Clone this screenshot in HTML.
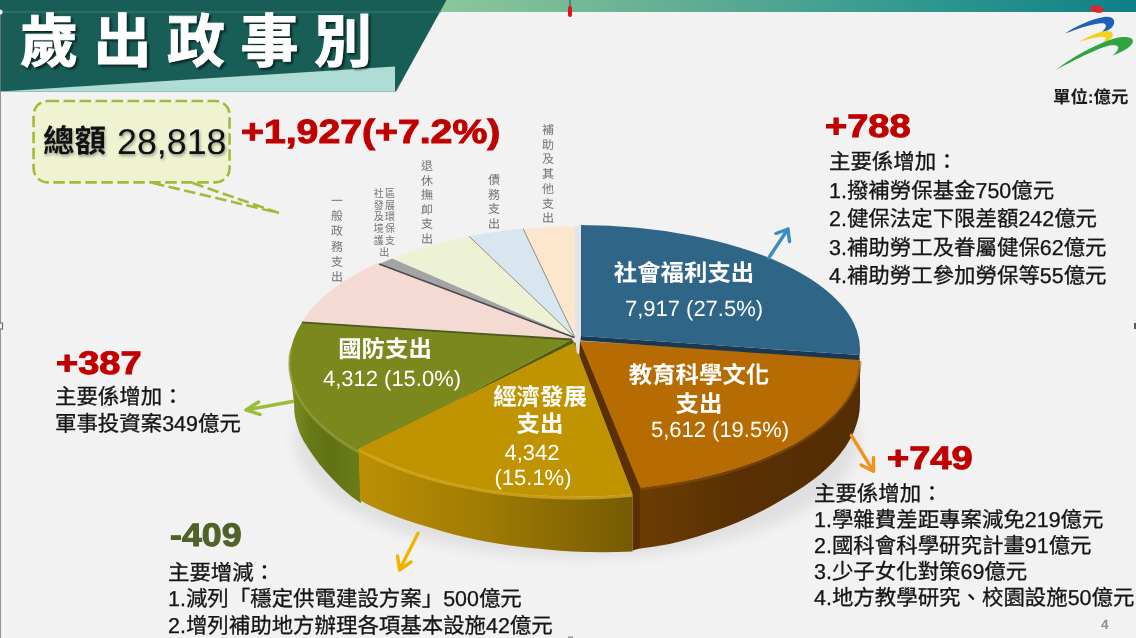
<!DOCTYPE html>
<html lang="zh-Hant">
<head>
<meta charset="utf-8">
<title>歲出政事別</title>
<style>
html,body{margin:0;padding:0;}
body{text-rendering:geometricPrecision;width:1136px;height:638px;overflow:hidden;background:#f2f2f2;font-family:"Liberation Sans","Noto Sans CJK TC",sans-serif;position:relative;color:#141414;}
#slide{position:absolute;left:0;top:0;width:1136px;height:638px;overflow:hidden;background:#f2f2f2;}
svg{position:absolute;left:0;top:0;}
.v2{text-rendering:auto;letter-spacing:1.3px;}
.t{position:absolute;white-space:nowrap;margin:0;will-change:transform;}
.title{left:20.3px;top:13.3px;font-size:58px;line-height:60px;font-weight:bold;color:#fff;letter-spacing:15.5px;-webkit-text-stroke:0.9px #fff;filter:drop-shadow(2px 2px 1px rgba(0,0,0,.6));}
.unit{left:1053px;top:87px;font-size:17.4px;line-height:20px;font-weight:bold;color:#1a1a1a;}
.big{font-weight:bold;font-size:32.5px;line-height:34px;color:#c00000;transform-origin:0 50%;transform:scaleX(1.17);-webkit-text-stroke:1px #c00000;}
.body{font-size:21.45px;color:#141414;-webkit-text-stroke:0.3px #141414;}
.wl{color:#fff;font-weight:bold;font-size:23.4px;line-height:28px;text-align:center;}
.wn{color:#fff;font-size:22px;line-height:26px;text-align:center;}
.v{position:absolute;will-change:transform;color:#747474;font-size:12px;line-height:14px;width:14px;text-align:center;}
</style>
</head>
<body>
<div id="slide">

<svg width="1136" height="638" viewBox="0 0 1136 638">
  <defs>
    <linearGradient id="gtop" x1="0" y1="0" x2="1" y2="0">
      <stop offset="0" stop-color="#8cc79b"/>
      <stop offset="0.35" stop-color="#62ad94"/>
      <stop offset="0.7" stop-color="#2f978f"/>
      <stop offset="1" stop-color="#0f7f86"/>
    </linearGradient>
    <linearGradient id="gyw" x1="358" y1="0" x2="634" y2="0" gradientUnits="userSpaceOnUse">
      <stop offset="0" stop-color="#bb9004"/>
      <stop offset="0.45" stop-color="#a17c04"/>
      <stop offset="1" stop-color="#755a03"/>
    </linearGradient>
    <linearGradient id="gow" x1="636" y1="0" x2="862" y2="0" gradientUnits="userSpaceOnUse">
      <stop offset="0" stop-color="#6e3d04"/>
      <stop offset="0.45" stop-color="#583003"/>
      <stop offset="1" stop-color="#532d04"/>
    </linearGradient>
    <linearGradient id="ggw" x1="288" y1="0" x2="360" y2="0" gradientUnits="userSpaceOnUse">
      <stop offset="0" stop-color="#80902a"/>
      <stop offset="0.3" stop-color="#687919"/>
      <stop offset="0.6" stop-color="#617214"/>
      <stop offset="1" stop-color="#6b7c18"/>
    </linearGradient>
    <filter id="blur" x="-10%" y="-30%" width="120%" height="160%"><feGaussianBlur stdDeviation="7"/></filter>
  </defs>

  <!-- header -->
  <rect x="440" y="0" width="696" height="12" fill="url(#gtop)"/>
  <polygon points="0,0 446.5,0 396,91.5 0,91.5" fill="#185e57"/>
  <polygon points="0,91.5 395,66.5 395,91.5" fill="#afdcd4"/>
  <rect x="0" y="11.5" width="441" height="1" fill="#4a8880" opacity="0.8"/>
  <rect x="0" y="12" width="1" height="626" fill="#6f7f8a" opacity="0.8"/>
  <circle cx="0" cy="12" r="2.6" fill="#eef3f5"/>
  <rect x="-1" y="323" width="3.5" height="6" fill="#f2f2f2" stroke="#56626c" stroke-width="1"/>
  <rect x="1134" y="323" width="2" height="6" fill="#555a62"/>
  <rect x="568" y="636.5" width="5" height="1.5" fill="#8a909c"/>
  <rect x="569.5" y="0" width="1" height="7" fill="#444"/>
  <rect x="568" y="6" width="4" height="11" rx="2" fill="#e0121a"/>

  <!-- logo -->
  <path d="M1090 7.5 C1093 4.5 1100 5 1103 8.5 C1105 11.5 1101 14 1096 12.5 C1092.5 11.5 1089.5 9.5 1090 7.5 Z" fill="#e0262c"/>
  <path d="M1065 33.5 C1076 26 1092 19 1104 17 C1112 16 1116 19.5 1113.5 25 C1111.5 29 1107 31 1101.5 32 C1106 28.5 1107.5 25 1104 23.5 C1098 22 1080 28 1065 33.5 Z" fill="#1f62b4"/>
  <path d="M1078 42.5 C1087 37 1098 32 1106 31 C1112 30.5 1114.5 34 1111.5 38 C1109.5 40.5 1107 41.5 1103 42.5 C1106.5 39.5 1107 37 1103 36.8 C1097 36.8 1087 39.5 1078 42.5 Z" fill="#f2d21b"/>
  <path d="M1055 70.5 C1072 57 1098 43 1116 38 C1127 35.5 1135 37.5 1132.5 43 C1130 48 1122 52 1112.5 55.5 C1118.5 50.5 1121 46 1114 45 C1104 45 1076 59 1055 70.5 Z" fill="#2fa441"/>
  <!-- callout -->
  <rect x="33.6" y="101" width="196" height="81.4" rx="14" ry="14" fill="#eff3d2" stroke="#a6b83a" stroke-width="2.6" stroke-dasharray="11.5 4.5"/>
  <path d="M153 183 L279 213 M192.5 183 L279 213" fill="none" stroke="#a6b83a" stroke-width="2.6" stroke-dasharray="11.5 4.5"/>

  <!-- pie shadow -->
  <ellipse cx="577" cy="440" rx="282" ry="118" fill="#000" opacity="0.07" filter="url(#blur)"/>

  <!-- small slices -->
  <path d="M573.0 338.5 L301.9 321.7 A284 136 0 0 1 377.6 263.0 Z" fill="#f5dad3"/>
  <path d="M574.5 337.2 L392.1 258.5 A284 136 0 0 1 469.1 236.3 Z" fill="#eef2d4"/>
  <path d="M574.7 337.1 L469.1 236.3 A284 136 0 0 1 523.2 228.8 Z" fill="#d8e6f0"/>
  <path d="M575.0 337.0 L523.2 228.8 A284 136 0 0 1 575.0 226.5 Z" fill="#fce6ce"/>
  <path d="M574.3 337.3 L379.1 264.0 A284 136 0 0 1 392.1 258.5 Z" fill="#a4a4a4"/>
  <path d="M469.1 236.3 L574.6 337.2 M523.2 228.8 L574.8 337.1" fill="none" stroke="#85866f" stroke-width="0.9"/>
  <path d="M379.1 264.0 L574.3 337.5" fill="none" stroke="#4c4c4c" stroke-width="1.6"/>

  <!-- green -->
  <path d="M359.2 451.4 L349.2 445.6 L340.0 439.6 L331.4 433.3 L323.6 426.9 L316.6 420.2 L310.3 413.3 L304.8 406.3 L300.2 399.2 L296.4 391.9 L293.4 384.6 L291.2 377.1 L289.9 369.7 L289.5 362.2 L294.1 404.2 L294.3 411.7 L295.4 419.1 L297.4 426.6 L300.1 433.9 L303.7 441.2 L308.2 448.3 L313.4 456.1 L319.4 464.3 L326.3 472.2 L333.8 480.3 L342.1 488.4 L351.2 496.3 L360.9 503.3 Z" fill="url(#ggw)"/>
  <path d="M572 339.5 L359.2 451.4 L362.7 456.9 L575 343.5 Z" fill="#4d5c12"/>
  <path d="M572.0 339.5 L359.2 451.4 A284 136 0 0 1 301.9 322.4 Z" fill="#7b881d"/>
  <path d="M359.2 452.6 L349.3 446.9 L340.1 440.9 L331.6 434.7 L323.8 428.2 L316.8 421.6 L310.6 414.8 L305.1 407.8 L300.4 400.7 L296.6 393.5 L293.5 386.2 L291.3 378.9 L290.0 371.5 L289.5 364.0 L289.9 356.6 L291.1 349.2" fill="none" stroke="#909f36" stroke-width="2.4" opacity="0.75"/>
  <path d="M301.9 322.4 L572 339.5" fill="none" stroke="#4a5820" stroke-width="1.8"/>

  <!-- yellow -->
  <path d="M632.6 494.0 L617.6 495.3 L602.5 496.2 L587.3 496.7 L572.1 496.8 L556.9 496.5 L541.8 495.8 L526.7 494.8 L511.8 493.3 L497.1 491.5 L482.6 489.3 L468.3 486.7 L454.4 483.8 L440.8 480.5 L427.6 476.9 L414.8 472.9 L402.5 468.7 L390.7 464.1 L379.4 459.2 L368.7 454.0 L358.6 448.6 L360.3 500.6 L370.2 505.7 L380.8 510.5 L391.9 515.0 L403.5 519.3 L415.6 523.2 L428.3 527.0 L441.3 531.0 L454.8 534.7 L468.6 538.0 L482.7 540.9 L497.2 543.5 L511.8 545.7 L526.7 547.5 L541.8 549.1 L556.9 550.5 L572.1 551.5 L587.3 552.0 L602.5 552.2 L617.6 552.1 L632.6 551.5 Z" fill="url(#gyw)"/>
  <path d="M574.3 342.5 L632.6 494.0 A284 136 0 0 1 358.6 448.6 Z" fill="#c09401"/>
  <path d="M632.6 495.2 L617.6 496.5 L602.5 497.4 L587.3 497.9 L572.1 498.0 L556.9 497.7 L541.8 497.0 L526.7 496.0 L511.8 494.5 L497.1 492.7 L482.6 490.5 L468.3 487.9 L454.4 485.0 L440.8 481.7 L427.6 478.1 L414.8 474.1 L402.5 469.9 L390.7 465.3 L379.4 460.4 L368.7 455.2 L358.6 449.8" fill="none" stroke="#d4a81c" stroke-width="3" opacity="0.8"/>

  <!-- orange -->
  <path d="M580 341 L641.7 487.7 L641.7 547.9 L632.6 550.5 L632.6 494.0 L574.5 343 Z" fill="#5a3003"/>
  <path d="M860.0 360.0 L859.6 367.0 L858.4 374.1 L856.3 381.1 L853.5 388.0 L849.8 394.8 L845.4 401.6 L840.1 408.2 L834.2 414.7 L827.4 421.0 L820.0 427.2 L811.8 433.1 L803.0 438.9 L793.5 444.4 L783.4 449.6 L772.7 454.6 L761.4 459.4 L749.6 463.8 L737.2 468.0 L724.5 471.8 L711.3 475.3 L697.7 478.5 L683.7 481.3 L669.5 483.8 L654.9 485.9 L640.2 487.7 L640.2 548.4 L654.9 546.5 L669.5 543.9 L683.7 540.5 L697.7 536.5 L711.3 532.1 L724.5 527.4 L737.2 522.4 L749.6 517.0 L761.4 511.3 L772.7 505.3 L783.4 499.1 L793.5 493.1 L803.0 487.1 L811.8 480.8 L820.0 474.4 L827.4 467.8 L834.2 461.0 L840.1 454.0 L845.4 446.9 L849.8 439.7 L853.5 432.4 L856.3 425.0 L858.4 417.7 L859.6 410.4 L860.0 403.0 Z" fill="url(#gow)"/>
  <path d="M580.0 341.0 L860.0 357.7 A283 131 0 0 1 640.2 487.7 Z" fill="#b66c02"/>
  <path d="M860.0 361.2 L859.6 368.2 L858.4 375.3 L856.3 382.3 L853.5 389.2 L849.8 396.0 L845.4 402.8 L840.1 409.4 L834.2 415.9 L827.4 422.2 L820.0 428.4 L811.8 434.3 L803.0 440.1 L793.5 445.6 L783.4 450.8 L772.7 455.8 L761.4 460.6 L749.6 465.0 L737.2 469.2 L724.5 473.0 L711.3 476.5 L697.7 479.7 L683.7 482.5 L669.5 485.0 L654.9 487.1 L640.2 488.9" fill="none" stroke="#8c5006" stroke-width="3" opacity="0.55"/>

  <polygon points="575,226 581.5,226 581.5,336 580,341 579.3,355 576.8,352.5 575,339" fill="#e2e4ea"/>
  <!-- blue -->
  <path d="M581 336 L859.7 355.1 L858.7 360.1 L580.5 340.5 Z" fill="#1a3852"/>
  <path d="M581.0 336.0 L581.0 225.0 A282 124.2 0 0 1 859.7 355.1 Z" fill="#2f6587"/>

  <!-- arrows -->
  <g fill="none" stroke-width="3.4" stroke-linecap="round" stroke-linejoin="round">
    <path d="M768.8 257.8 L788 229 M776 233.5 L788 229 L789.5 241.5" stroke="#3c8dbf"/>
    <path d="M292.6 401.5 L246 410 M258.5 402 L246 410 L260 414.5" stroke="#9bbb3a"/>
    <path d="M418 533.3 L399.5 570 M397.5 556 L399.5 570 L411 562" stroke="#f0b400"/>
    <path d="M851.3 435.4 L873.5 471.3 M861 465 L873.5 471.3 L873.5 457.5" stroke="#f0921e"/>
  </g>
</svg>

<div class="t title">歲出政事別</div>
<div class="t unit">單位:億元</div>

<div class="t" style="left:43px;top:123px;font-size:31.5px;line-height:36px;font-weight:bold;color:#111;filter:drop-shadow(1px 2px 1.5px rgba(0,0,0,.35));">總額</div>
<div class="t" style="left:117px;top:121.5px;font-size:35.8px;line-height:40px;color:#111;text-shadow:1px 2px 3px rgba(0,0,0,.35);">28,818</div>
<div class="t big" style="left:241px;top:116px;font-size:33.5px;">+1,927(+7.2%)</div>

<div class="t big" style="left:825px;top:108.5px;">+788</div>
<div class="t body" style="left:828.5px;top:147.9px;line-height:28.6px;">主要係增加：<br>1.撥補勞保基金750億元<br>2.健保法定下限差額242億元<br>3.補助勞工及眷屬健保62億元<br>4.補助勞工參加勞保等55億元</div>

<div class="t big" style="left:56px;top:345.7px;">+387</div>
<div class="t body" style="left:55px;top:384.1px;line-height:27.2px;">主要係增加：<br>軍事投資案349億元</div>

<div class="t big" style="left:170px;top:518px;transform:scaleX(1.10);color:#4f6228;-webkit-text-stroke-color:#4f6228;">-409</div>
<div class="t body" style="left:167.5px;top:559.6px;line-height:26.4px;">主要增減：<br>1.減列「穩定供電建設方案」500億元<br>2.增列補助地方辦理各項基本設施42億元</div>

<div class="t big" style="left:887px;top:441px;">+749</div>
<div class="t body" style="left:814.4px;top:481.9px;line-height:25.9px;">主要係增加：<br>1.學雜費差距專案減免219億元<br>2.國科會科學研究計畫91億元<br>3.少子女化對策69億元<br>4.地方教學研究、校園設施50億元</div>

<div class="t wl" style="left:583.5px;width:200px;top:258.6px;">社會福利支出</div>
<div class="t wn" style="left:593.6px;width:200px;top:296px;">7,917 (27.5%)</div>

<div class="t wl" style="left:599px;width:200px;top:361.1px;">教育科學文化</div>
<div class="t wl" style="left:599px;width:200px;top:390.1px;">支出</div>
<div class="t wn" style="left:620px;width:200px;top:417px;">5,612 (19.5%)</div>

<div class="t wl" style="left:440px;width:200px;top:382.6px;">經濟發展</div>
<div class="t wl" style="left:439.6px;width:200px;top:410.3px;">支出</div>
<div class="t wn" style="left:432.3px;width:200px;top:440px;">4,342</div>
<div class="t wn" style="left:432.6px;width:200px;top:464.5px;">(15.1%)</div>

<div class="t wl" style="left:285px;width:200px;top:335.1px;">國防支出</div>
<div class="t wn" style="left:292px;width:200px;top:366px;">4,312 (15.0%)</div>

<div class="v" style="left:329.8px;top:194.1px;line-height:15.2px;">一<br>般<br>政<br>務<br>支<br>出</div>
<div class="v v2" style="left:371.5px;top:188.2px;width:26px;font-size:10px;line-height:11.7px;">社區<br>發展<br>及環<br>境保<br>護支<br>出</div>
<div class="v" style="left:419.5px;top:158.6px;line-height:14.5px;">退<br>休<br>撫<br>卹<br>支<br>出</div>
<div class="v" style="left:486.9px;top:173.2px;line-height:14.6px;">債<br>務<br>支<br>出</div>
<div class="v" style="left:540.7px;top:123px;line-height:14.7px;">補<br>助<br>及<br>其<br>他<br>支<br>出</div>

<div class="t" style="left:1101px;top:617px;font-size:13.5px;line-height:16px;font-weight:bold;color:#8c8c8c;">4</div>

</div>
</body>
</html>
